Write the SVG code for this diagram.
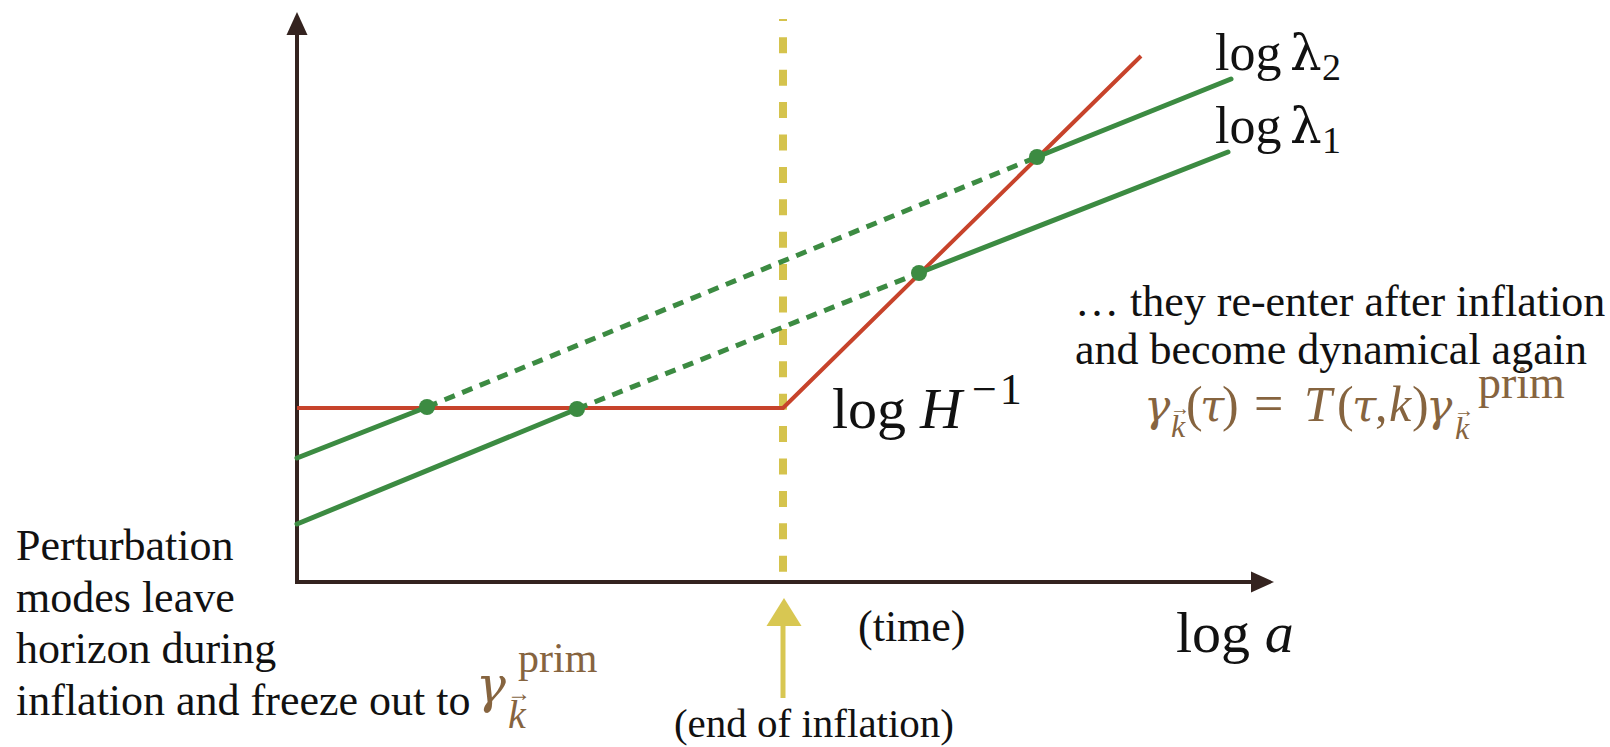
<svg xmlns="http://www.w3.org/2000/svg" width="1610" height="747" viewBox="0 0 1610 747">
<style>
.t{font-family:"Liberation Serif","DejaVu Serif",serif;fill:#111}
.m{font-family:"Liberation Serif","DejaVu Serif",serif;fill:#86643f}
.g{font-family:"DejaVu Serif","Liberation Serif",serif}
.i{font-style:italic}
.ax{stroke:#34231f;stroke-width:4;fill:none}
.axh{fill:#34231f}
.red{stroke:#c7432b;stroke-width:4;fill:none;stroke-linejoin:round}
.grn{stroke:#3c8b42;stroke-width:5;fill:none;stroke-linecap:round}
.gd{stroke-dasharray:11 8;stroke-linecap:butt}
.dot{fill:#3c8b42}
.yel{stroke:#d5c34d;stroke-width:8;fill:none;stroke-dasharray:16 16.4;stroke-dashoffset:14.1}
</style>
<rect width="1610" height="747" fill="#fff"/>
<g id="axes">
<line class="ax" x1="297" y1="584" x2="297" y2="30"/>
<polygon class="axh" points="297,12 286.5,35 307.5,35"/>
<line class="ax" x1="295" y1="582" x2="1255" y2="582"/>
<polygon class="axh" points="1274,582 1251,571.5 1251,592.5"/>
</g>
<g id="end-of-inflation-line">
<line class="yel" x1="783" y1="19" x2="783" y2="580"/>
</g>
<g id="connectors">
<polyline class="red" points="297,408 783,408 1141,56"/>
<line class="grn" x1="297" y1="458" x2="427" y2="407"/>
<line class="grn gd" x1="427" y1="407" x2="1037" y2="157"/>
<line class="grn" x1="1037" y1="157" x2="1231" y2="79"/>
<line class="grn" x1="297" y1="524" x2="577" y2="409"/>
<line class="grn gd" x1="577" y1="409" x2="919" y2="273"/>
<line class="grn" x1="919" y1="273" x2="1228" y2="152"/>
</g>
<g id="dots">
<circle class="dot" cx="427" cy="407" r="8"/>
<circle class="dot" cx="577" cy="409" r="8"/>
<circle class="dot" cx="919" cy="273" r="8"/>
<circle class="dot" cx="1037" cy="157" r="8"/>
</g>
<g id="end-arrow">
<line x1="783" y1="618" x2="783" y2="698" stroke="#d8c752" stroke-width="5"/>
<polygon points="784,598 766.5,626 801.5,626" fill="#d8c752"/>
</g>
<g id="label-lambda2">
<text class="t" x="1215" y="70" font-size="52">log</text>
<text class="t g" x="1290" y="70" font-size="50">λ</text>
<text class="t" x="1322" y="80" font-size="38">2</text>
</g>
<g id="label-lambda1">
<text class="t" x="1215" y="143" font-size="52">log</text>
<text class="t g" x="1290" y="143" font-size="50">λ</text>
<text class="t" x="1322" y="153" font-size="38">1</text>
</g>
<g id="label-H">
<text class="t" x="832" y="428" font-size="58">log</text>
<text class="t i" x="920" y="428" font-size="58">H</text>
<text class="t" x="972" y="404" font-size="44" letter-spacing="3">−1</text>
</g>
<g id="label-loga">
<text class="t" x="1176" y="652" font-size="58">log <tspan class="i">a</tspan></text>
</g>
<g id="label-time">
<text class="t" x="858" y="641" font-size="44">(time)</text>
</g>
<g id="label-end">
<text class="t" x="814" y="737" font-size="41" text-anchor="middle">(end of inflation)</text>
</g>
<g id="label-left">
<text class="t" font-size="44">
<tspan x="16" y="560">Perturbation</tspan>
<tspan x="16" y="612">modes leave</tspan>
<tspan x="16" y="663">horizon during</tspan>
<tspan x="16" y="715">inflation and freeze out to</tspan>
</text>
<text class="m g i" font-size="50" x="476" y="702">γ</text>
<text class="m" font-size="42" x="518" y="672">prim</text>
<text class="m i" font-size="40" x="508" y="728">k</text>
<text class="m" font-size="24" x="507" y="701">→</text>
</g>
<g id="label-right">
<text class="t" font-size="44">
<tspan x="1075" y="316">… they re-enter after inflation</tspan>
<tspan x="1075" y="364">and become dynamical again</tspan>
</text>
<text class="m g i" font-size="44" x="1144" y="421">γ</text>
<text class="m i" font-size="32" x="1171" y="437">k</text>
<text class="m" font-size="20" x="1170" y="415">→</text>
<text class="m" font-size="50" x="1186" y="421">(</text>
<text class="m g i" font-size="44" x="1200" y="421">τ</text>
<text class="m" font-size="50" x="1222" y="421">)</text>
<text class="m" font-size="52" x="1254" y="421">=</text>
<text class="m i" font-size="50" x="1304" y="421">T</text>
<text class="m" font-size="50" x="1337" y="421">(</text>
<text class="m g i" font-size="44" x="1352" y="421">τ</text>
<text class="m" font-size="50" x="1375" y="421">,</text>
<text class="m i" font-size="50" x="1389" y="421">k</text>
<text class="m" font-size="50" x="1412" y="421">)</text>
<text class="m g i" font-size="44" x="1426" y="421">γ</text>
<text class="m i" font-size="32" x="1455" y="439">k</text>
<text class="m" font-size="20" x="1454" y="417">→</text>
<text class="m" font-size="46" x="1478" y="398">prim</text>
</g>
</svg>
